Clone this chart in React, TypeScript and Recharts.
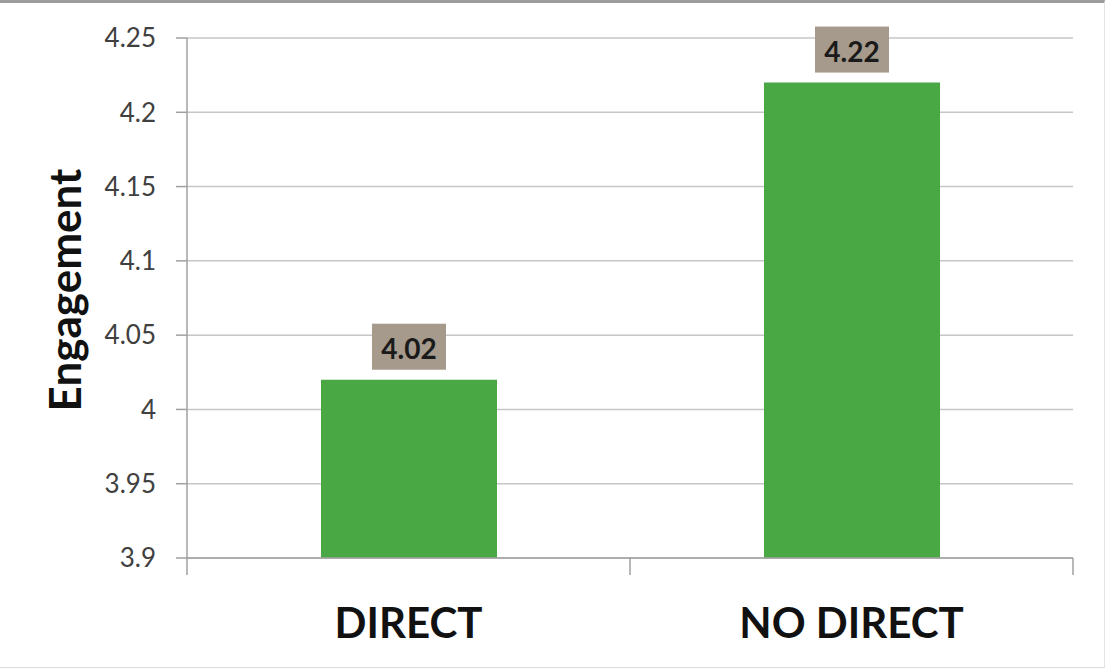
import { BarChart, Bar, XAxis, YAxis, CartesianGrid, LabelList } from "recharts";

const groups = ["DIRECT", "NO DIRECT"];
const engagement = [4.02, 4.22];
const yTicks = [3.9, 3.95, 4, 4.05, 4.1, 4.15, 4.2, 4.25];
// category boundaries as fractions of the plot width
const groupEdges = [0, 0.5, 1];

const data = groups.map((g, i) => ({ group: g, engagement: engagement[i] }));

const FONT = "Lato, 'Open Sans', sans-serif";

function ValueTag(props: any) {
  const { x, y, width, value } = props;
  const cx = Number(x) + Number(width) / 2;
  const bottom = Number(y) - 10;
  return (
    <g>
      <rect x={cx - 37} y={bottom - 46} width={74} height={46} fill="#a69a8c" />
      <text
        x={cx}
        y={bottom - 22}
        textAnchor="middle"
        dominantBaseline="central"
        fontFamily={FONT}
        fontWeight={700}
        fontSize={28}
        fill="#1a1a1a"
      >
        {Number(value).toFixed(2)}
      </text>
    </g>
  );
}

function AxisTitle(props: any) {
  const { viewBox } = props;
  const cy = viewBox.y + viewBox.height / 2 - 8;
  return (
    <text
      x={81}
      y={cy}
      transform={`rotate(-90, 81, ${cy})`}
      textAnchor="middle"
      fontFamily={FONT}
      fontWeight={700}
      fontSize={44}
      fill="#111"
    >
      Engagement
    </text>
  );
}

// boundary ticks carry no text
const NoText = () => <g />;

export default function App() {
  return (
    <div
      style={{
        position: "fixed",
        left: 0,
        top: 0,
        width: 1105,
        height: 668,
        background: "#fff",
        boxSizing: "border-box",
        borderTop: "3px solid #9c9c9c",
        borderBottom: "1px solid #dcdcdc",
        borderRight: "1px solid #e4e4e4",
      }}
    >
      <div style={{ position: "absolute", left: 0, top: -3 }}>
        <BarChart
          width={1105}
          height={668}
          data={data}
          margin={{ top: 38, right: 32, bottom: 30, left: 0 }}
          barCategoryGap="30%"
        >
          <CartesianGrid vertical={false} stroke="#c6c6c6" strokeWidth={1.5} />
          {/* category names sit below the short boundary ticks */}
          <XAxis
            xAxisId="names"
            dataKey="group"
            height={60}
            axisLine={false}
            tickLine={false}
            tickSize={0}
            tickMargin={30}
            tick={{ fontFamily: FONT, fontWeight: 700, fontSize: 42, fill: "#111" }}
          />
          <XAxis
            xAxisId="edges"
            type="number"
            domain={[0, 1]}
            allowDataOverflow
            ticks={groupEdges}
            interval={0}
            tick={NoText}
            tickLine={{ stroke: "#a0a0a0", strokeWidth: 1.5 }}
            tickSize={17}
            height={20}
            stroke="#a0a0a0"
            strokeWidth={1.5}
          />
          <YAxis
            width={187}
            domain={[3.9, 4.25]}
            ticks={yTicks}
            allowDataOverflow
            interval={0}
            tickSize={11}
            tickMargin={20}
            stroke="#a0a0a0"
            strokeWidth={1.5}
            tick={{ fontFamily: FONT, fontSize: 26, fill: "#404040" }}
            label={<AxisTitle />}
          />
          <Bar xAxisId="names" dataKey="engagement" fill="#4aa844" barSize={176} isAnimationActive={false}>
            <LabelList dataKey="engagement" content={<ValueTag />} />
          </Bar>
        </BarChart>
      </div>
    </div>
  );
}
